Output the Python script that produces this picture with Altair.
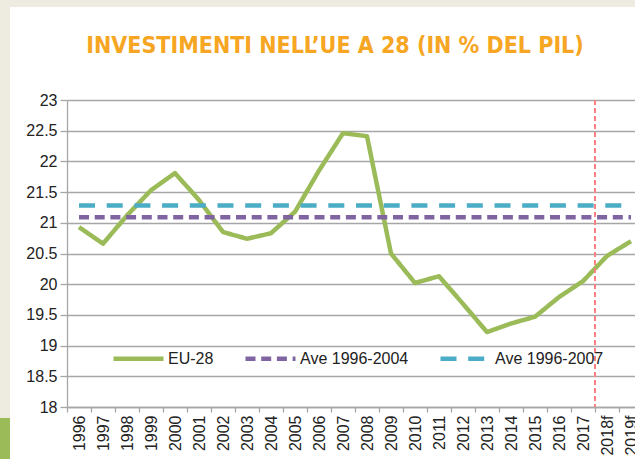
import altair as alt
import pandas as pd

years = ["1996", "1997", "1998", "1999", "2000", "2001", "2002", "2003", "2004",
         "2005", "2006", "2007", "2008", "2009", "2010", "2011", "2012", "2013",
         "2014", "2015", "2016", "2017", "2018f", "2019f"]
eu28 = [20.93, 20.66, 21.12, 21.53, 21.81, 21.37, 20.85, 20.74, 20.83,
        21.18, 21.85, 22.46, 22.41, 20.50, 20.02, 20.13, 19.68, 19.22,
        19.36, 19.47, 19.79, 20.05, 20.46, 20.70]
ave_1996_2004 = [21.09] * len(years)
ave_1996_2007 = [21.28] * len(years)
series_names = ["EU-28", "Ave 1996-2004", "Ave 1996-2007"]
series_colors = ["#9BBB59", "#8064A2", "#4BACC6"]
y_ticks = [18, 18.5, 19, 19.5, 20, 20.5, 21, 21.5, 22, 22.5, 23]
forecast_start = "2018f"
title_text = "INVESTIMENTI NELL\u2019UE A 28 (IN % DEL PIL)"

rows = []
for name, vals in zip(series_names, [eu28, ave_1996_2004, ave_1996_2007]):
    for i, (yr, v) in enumerate(zip(years, vals)):
        rows.append({"year": yr, "value": v, "series": name, "order": i})
df = pd.DataFrame(rows)

FONT = "Liberation Sans"
GRID = "#A6A6A6"

x_scale = alt.Scale(domain=years, range=[0, 576], paddingInner=0, paddingOuter=0)
y_scale = alt.Scale(domain=[18, 23], nice=False, zero=False)

legend_kw = dict(title=None, orient="none", legendX=44, legendY=231,
                 direction="horizontal", symbolType="stroke",
                 symbolSize=2500, symbolStrokeWidth=4.5,
                 labelFont=FONT, labelFontSize=16,
                 labelColor="#222222", labelOffset=2,
                 columnPadding=22)

lines = alt.Chart(df).mark_line(strokeCap="butt", strokeJoin="round").encode(
    x=alt.X("year:N", scale=x_scale, sort=years, title=None,
            axis=alt.Axis(labelAngle=270, labelAlign="right", labelBaseline="middle",
                          tickBand="extent", ticks=True, tickSize=5, tickColor=GRID,
                          tickWidth=1.3, domainColor=GRID, domainWidth=1.3,
                          labelFont=FONT, labelFontSize=16, labelColor="#222222",
                          labelPadding=3, grid=False, labelOverlap=False)),
    y=alt.Y("value:Q", scale=y_scale, title=None,
            axis=alt.Axis(values=y_ticks, format=".1~f", grid=True, gridColor=GRID,
                          gridWidth=1.3, tickSize=7, tickColor=GRID, tickWidth=1.3,
                          domainColor=GRID, domainWidth=1.3, labelFont=FONT,
                          labelFontSize=16, labelColor="#222222", labelPadding=3)),
    color=alt.Color("series:N", scale=alt.Scale(domain=series_names, range=series_colors),
                    legend=alt.Legend(**legend_kw)),
    strokeDash=alt.StrokeDash("series:N",
                              scale=alt.Scale(domain=series_names,
                                              range=[[1, 0], [10, 5.7], [16, 11.7]]),
                              legend=alt.Legend(**legend_kw)),
    order=alt.Order("order:Q"),
    strokeWidth=alt.value(4.5),
)

rule_df = pd.DataFrame({"year": [forecast_start]})
rule = alt.Chart(rule_df).mark_rule(color="#FF8080", strokeWidth=2,
                                    strokeDash=[5, 3]).encode(
    x=alt.X("year:N", scale=x_scale, sort=years, bandPosition=0),
)

deco = pd.DataFrame({"k": [0]})
beige_left = alt.Chart(deco).mark_rect(color="#EEEBE0").encode(
    x=alt.value(-67), x2=alt.value(-57), y=alt.value(-100), y2=alt.value(318))
beige_top = alt.Chart(deco).mark_rect(color="#EEEBE0").encode(
    x=alt.value(-67), x2=alt.value(568), y=alt.value(-100), y2=alt.value(-93))
green_block = alt.Chart(deco).mark_rect(color="#9BBB59").encode(
    x=alt.value(-67), x2=alt.value(-57), y=alt.value(318), y2=alt.value(359))

chart = alt.layer(lines, rule, beige_left, beige_top, green_block).properties(
    width=568, height=307,
    autosize=alt.AutoSizeParams(type="none"),
    padding={"left": 67, "top": 100, "right": 0, "bottom": 52},
    background="white",
    title=alt.TitleParams(title_text, anchor="middle", dx=-16, offset=0, dy=58,
                          font="Liberation Sans Narrow, DejaVu Sans Condensed, sans-serif",
                          fontSize=23, fontWeight="bold", color="#F6A623"),
).configure_view(stroke=None)

chart.save("out.html", embed_options={"renderer": "svg", "actions": False})
